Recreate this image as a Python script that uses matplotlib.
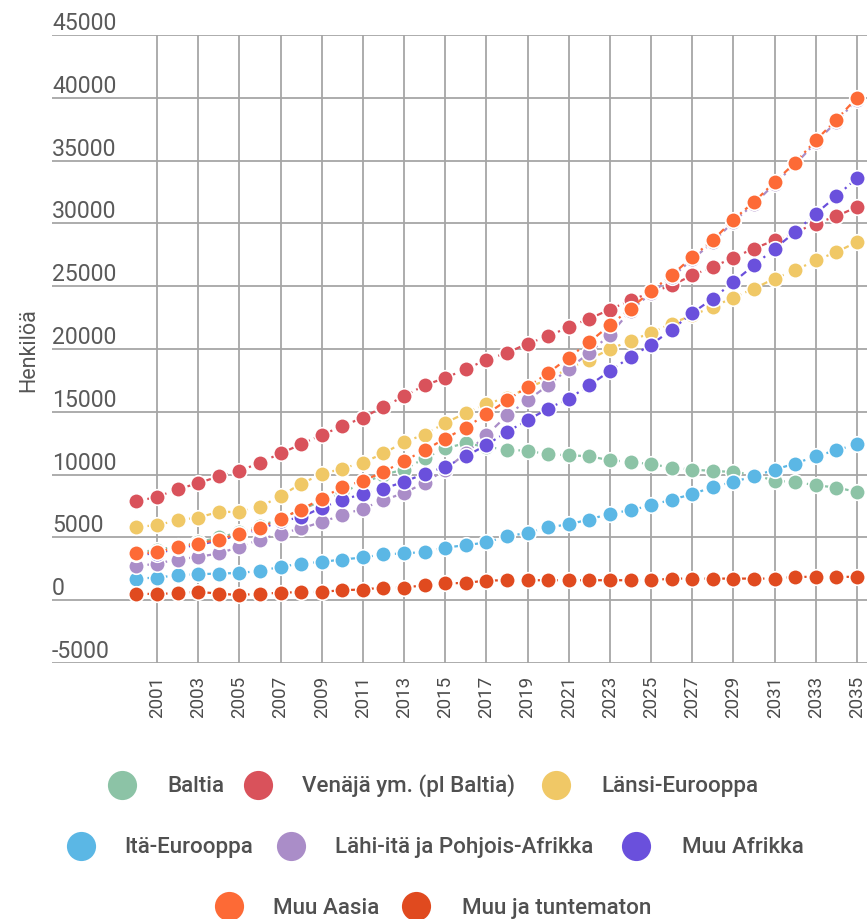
import matplotlib
matplotlib.use("Agg")
import matplotlib.pyplot as plt
from matplotlib.lines import Line2D
import matplotlib.transforms as mtransforms

years = list(range(2000, 2036))

baltia = [3800, 4000, 4300, 4600, 5000, 5400, 5900, 6500, 7200, 7900,
          8600, 9300, 10000, 10400, 11300, 12100, 12500, 12200, 11990, 11890,
          11620, 11540, 11460, 11140, 11010, 10830, 10560, 10400, 10290, 10210,
          10000, 9500, 9420, 9150, 8970, 8620]
venaja = [7880, 8220, 8840, 9310, 9870, 10270, 10960, 11680, 12420, 13160,
          13850, 14540, 15390, 16240, 17110, 17700, 18390, 19150, 19690, 20430,
          21010, 21760, 22420, 23140, 23880, 24500, 25070, 25870, 26530, 27280,
          28000, 28660, 29300, 29990, 30570, 31310]
lansi = [5840, 5970, 6370, 6580, 7030, 7030, 7430, 8280, 9290, 10030,
         10480, 10960, 11680, 12600, 13190, 14110, 14910, 15660, 16100, 16900,
         17600, 18450, 19160, 20000, 20650, 21300, 22030, 22690, 23350, 24100,
         24810, 25610, 26270, 27060, 27720, 28520]
ita = [1720, 1800, 1990, 2070, 2120, 2170, 2330, 2650, 2920, 3050,
       3240, 3400, 3660, 3720, 3850, 4190, 4380, 4600, 5090, 5360,
       5790, 6050, 6420, 6900, 7160, 7560, 8010, 8440, 9020, 9420,
       9870, 10400, 10880, 11460, 11940, 12420]
lahi = [2700, 2920, 3240, 3450, 3720, 4240, 4830, 5310, 5710, 6230,
        6770, 7300, 7960, 8540, 9340, 10400, 11700, 13130, 14710, 15920,
        17110, 18440, 19690, 21150, 23050, 24450, 25700, 27150, 28500, 30150,
        31550, 33150, 34700, 36450, 38100, 39850]
muu_afrikka = [3650, 3700, 4150, 4400, 4750, 5200, 5650, 6300, 6600, 7380,
               7960, 8490, 8890, 9420, 10080, 10610, 11460, 12360, 13400, 14330,
               15260, 16050, 17110, 18250, 19370, 20340, 21540, 22870, 24010, 25340,
               26670, 27990, 29320, 30780, 32160, 33620]
muu_aasia = [3720, 3800, 4250, 4510, 4830, 5310, 5760, 6500, 7220, 8090,
             9020, 9500, 10210, 11090, 11940, 12870, 13750, 14810, 15920, 16980,
             18090, 19320, 20560, 21890, 23220, 24620, 25870, 27330, 28660, 30310,
             31710, 33300, 34840, 36620, 38260, 40020]
muu_tunt = [530, 480, 580, 660, 530, 400, 530, 580, 660, 660,
            800, 850, 1010, 1010, 1190, 1330, 1380, 1560, 1590, 1590,
            1590, 1590, 1590, 1590, 1590, 1590, 1720, 1720, 1720, 1720,
            1720, 1720, 1860, 1860, 1860, 1860]

series_names = ["Baltia", "Venäjä ym. (pl Baltia)", "Länsi-Eurooppa",
                "Itä-Eurooppa", "Lähi-itä ja Pohjois-Afrikka", "Muu Afrikka",
                "Muu Aasia", "Muu ja tuntematon"]
series_values = [baltia, venaja, lansi, ita, lahi, muu_afrikka, muu_aasia, muu_tunt]
colors = ["#8cc3a6", "#d9525b", "#f0c866", "#5bb7e5", "#aa8dc8", "#6a50dc",
          "#fd6a36", "#e04a1f"]

y_ticks = list(range(-5000, 45001, 5000))
x_ticks = list(range(2001, 2036, 2))

W, H = 867, 919
fig = plt.figure(figsize=(W / 100, H / 100), dpi=100)
fig.patch.set_facecolor("white")

ax_left, ax_right, ax_top, ax_bottom = 52, 867, 35, 663
ax = fig.add_axes([ax_left / W, 1 - ax_bottom / H, (ax_right - ax_left) / W,
                   (ax_bottom - ax_top) / H])

px_per_year = (857 - 157) / 34.0
x2000 = 157 - px_per_year
ax.set_xlim(2000 - (x2000 - ax_left) / px_per_year,
            2000 + (ax_right - x2000) / px_per_year)
ax.set_ylim(-5000, 45000)

for name, vals, c in zip(series_names, series_values, colors):
    ax.plot(years, vals, color=c, lw=1.6, linestyle=(0, (3, 2, 1, 2)),
            marker="o", markersize=11.2, markerfacecolor=c,
            markeredgecolor="white", markeredgewidth=1.2, label=name,
            clip_on=False, zorder=3)

for s in ax.spines.values():
    s.set_visible(False)

ax.set_xticks(x_ticks)
ax.set_xticklabels([str(y) for y in x_ticks], rotation=90,
                   fontsize=13.5, color="#4a4a4a", family="Roboto")
ax.tick_params(axis="x", length=0, pad=9)
ax.set_yticks(y_ticks)
ax.set_yticklabels([])
ax.tick_params(axis="y", length=0)
ax.grid(True, color="#a6a6a6", lw=1.3, zorder=0)
ax.set_axisbelow(True)

trans = mtransforms.blended_transform_factory(ax.transAxes, ax.transData)
off = mtransforms.ScaledTranslation(0, 5 / 100, fig.dpi_scale_trans)
for v in y_ticks:
    ax.text(0.0, v, str(v), transform=trans + off, ha="left", va="baseline",
            fontsize=16.6, color="#5a5a5a", family="Roboto")

fig.text(29 / W, 1 - 350 / H, "Henkilöä", rotation=90, ha="center",
         va="center", fontsize=15.5, color="#555555", family="Roboto")

# legend, laid out like the reference (three centred rows)
legend_rows = [
    [(0, 121.7, 167.5), (1, 257.7, 302), (2, 556, 601.5)],
    [(3, 81, 124), (4, 291, 335), (5, 635.5, 681.5)],
    [(6, 229, 273), (7, 416, 461.5)],
]
row_centers = [785, 846, 906]
row_baselines = [792, 853, 914]
for row, yc, yb in zip(legend_rows, row_centers, row_baselines):
    for idx, mx, tx in row:
        fig.add_artist(Line2D([mx / W], [1 - yc / H], transform=fig.transFigure,
                              marker="o", markersize=21, linestyle="none",
                              markerfacecolor=colors[idx],
                              markeredgecolor=colors[idx], markeredgewidth=0))
        fig.text(tx / W, 1 - yb / H, series_names[idx], ha="left",
                 va="baseline", fontsize=16.1, color="#505050",
                 family="Roboto", fontweight="medium")

fig.savefig("out.png", dpi=100, facecolor="white")
